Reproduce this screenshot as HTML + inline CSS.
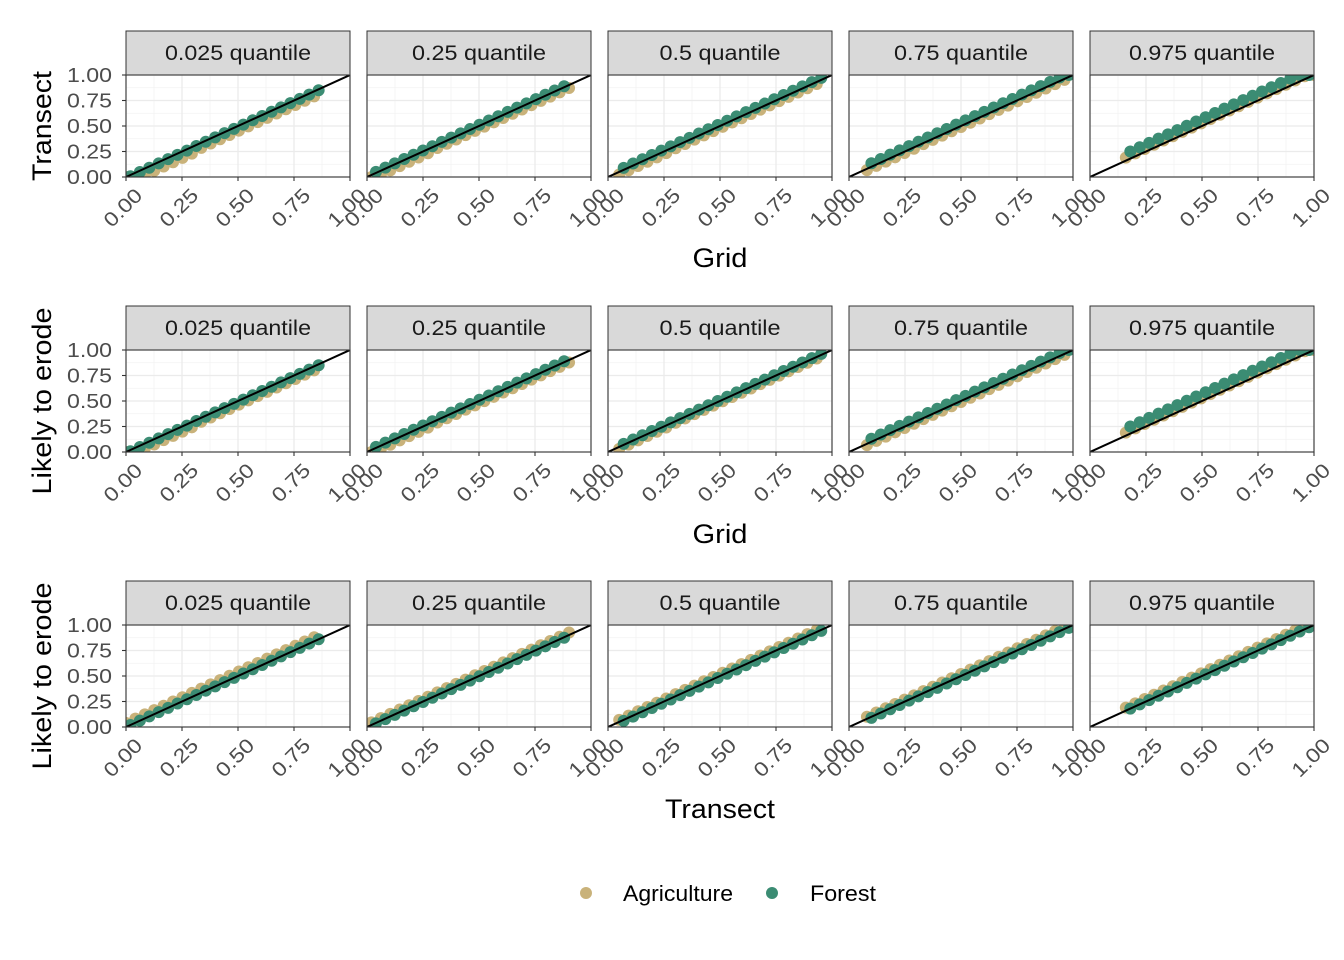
<!DOCTYPE html><html><head><meta charset="utf-8"><style>body{margin:0;background:#fff}svg{display:block}text{font-family:"Liberation Sans",sans-serif}</style></head><body>
<svg id="s" width="1344" height="960" xmlns="http://www.w3.org/2000/svg"></svg>
<script>
const S=document.getElementById('s');let h='';
const px=[126,367,608,849,1090],W=224,H=102;
const rows=[{st:31,top:75,yl:'Transect',yw:110,xl:'Grid',xw:55,xly:258},{st:306,top:350,yl:'Likely to erode',yw:187,xl:'Grid',xw:55,xly:534},{st:581,top:625,yl:'Likely to erode',yw:187,xl:'Transect',xw:110,xly:809}];
const q=['0.025 quantile','0.25 quantile','0.5 quantile','0.75 quantile','0.975 quantile'];
const qw=[146,134,121,134,146];
const rng=[[0,0.86],[0.02,0.91],[0.05,0.96],[0.08,1],[0.16,1]];
const off=[
 [[-0.05,-0.01],[-0.03,0.01],[-0.02,0.02],[-0.01,0.035],[0.03,0.07]],
 [[-0.04,-0.01],[-0.025,0.01],[-0.015,0.01],[-0.01,0.03],[0.03,0.07]],
 [[0.04,0.0],[0.025,-0.005],[0.02,-0.01],[0.02,-0.01],[0.03,0.0]]];
const AG='#C9B27A',FO='#3B8C73';
const T=(x,y,s,txt,w,extra)=>`<text x="${x}" y="${y}" font-size="${s}" textLength="${w}" lengthAdjust="spacingAndGlyphs" ${extra||''}>${txt}</text>`;
rows.forEach((r,ri)=>{
 px.forEach((x0,pi)=>{
  const t=r.top,b=t+H;
  h+=`<rect x="${x0}" y="${r.st}" width="${W}" height="${t-r.st}" fill="#D9D9D9" stroke="#333" stroke-width="1"/>`;
  h+=T(x0+W/2-qw[pi]/2,r.st+29,21,q[pi],qw[pi],'fill="#1A1A1A"');
  h+=`<rect x="${x0}" y="${t}" width="${W}" height="${H}" fill="#fff"/>`;
  for(let v=0.125;v<1;v+=0.25){h+=`<line x1="${x0+v*W}" x2="${x0+v*W}" y1="${t}" y2="${b}" stroke="#F2F2F2" stroke-width="0.7"/><line x1="${x0}" x2="${x0+W}" y1="${b-v*H}" y2="${b-v*H}" stroke="#F2F2F2" stroke-width="0.7"/>`}
  for(let v=0;v<=1;v+=0.25){h+=`<line x1="${x0+v*W}" x2="${x0+v*W}" y1="${t}" y2="${b}" stroke="#EBEBEB" stroke-width="1.3"/><line x1="${x0}" x2="${x0+W}" y1="${b-v*H}" y2="${b-v*H}" stroke="#EBEBEB" stroke-width="1.3"/>`}
  h+=`<svg x="${x0}" y="${t}" width="${W}" height="${H}" overflow="hidden">`;
  const [a,z]=rng[pi];
  [[AG,off[ri][pi][0]],[FO,off[ri][pi][1]]].forEach(([c,o],k)=>{
   for(let v=a+(k?0.02:0);v<=z+0.001;v+=0.042){let y=Math.min(1,Math.max(0,v+o*(v<0.3&&ri<2&&o<0?1.3:1)));h+=`<circle cx="${v*W}" cy="${H-y*H}" r="6" fill="${c}"/>`}
  });
  h+=`<line x1="0" y1="${H}" x2="${W}" y2="0" stroke="#000" stroke-width="2"/></svg>`;
  h+=`<rect x="${x0}" y="${t}" width="${W}" height="${H}" fill="none" stroke="#333" stroke-width="1.1"/>`;
  ['0.00','0.25','0.50','0.75','1.00'].forEach((l,i)=>{const tx=x0+i*W/4;
   h+=`<line x1="${tx}" x2="${tx}" y1="${b}" y2="${b+4}" stroke="#333" stroke-width="1.1"/>`;
   h+=`<text transform="translate(${tx+8},${b+10}) rotate(-45)" font-size="20" text-anchor="end" dominant-baseline="hanging" textLength="45" lengthAdjust="spacingAndGlyphs" fill="#4D4D4D">${l}</text>`;
   if(pi==0){h+=`<line x1="${x0-4}" x2="${x0}" y1="${b-i*H/4}" y2="${b-i*H/4}" stroke="#333" stroke-width="1.1"/>`+T(x0-59,b-i*H/4+7,20,l,45,'fill="#4D4D4D"')}
  });
 });
 h+=`<text transform="translate(51,${r.top+H/2+r.yw/2}) rotate(-90)" font-size="27" textLength="${r.yw}" lengthAdjust="spacingAndGlyphs" fill="#000">${r.yl}</text>`;
 h+=T(720-r.xw/2,r.xly+9,27,r.xl,r.xw,'fill="#000"');
});
h+=`<circle cx="586" cy="893" r="6" fill="${AG}"/>`+T(623,901,22,'Agriculture',110)+`<circle cx="772" cy="893" r="6" fill="${FO}"/>`+T(810,901,22,'Forest',66);
S.innerHTML=h;
</script></body></html>
